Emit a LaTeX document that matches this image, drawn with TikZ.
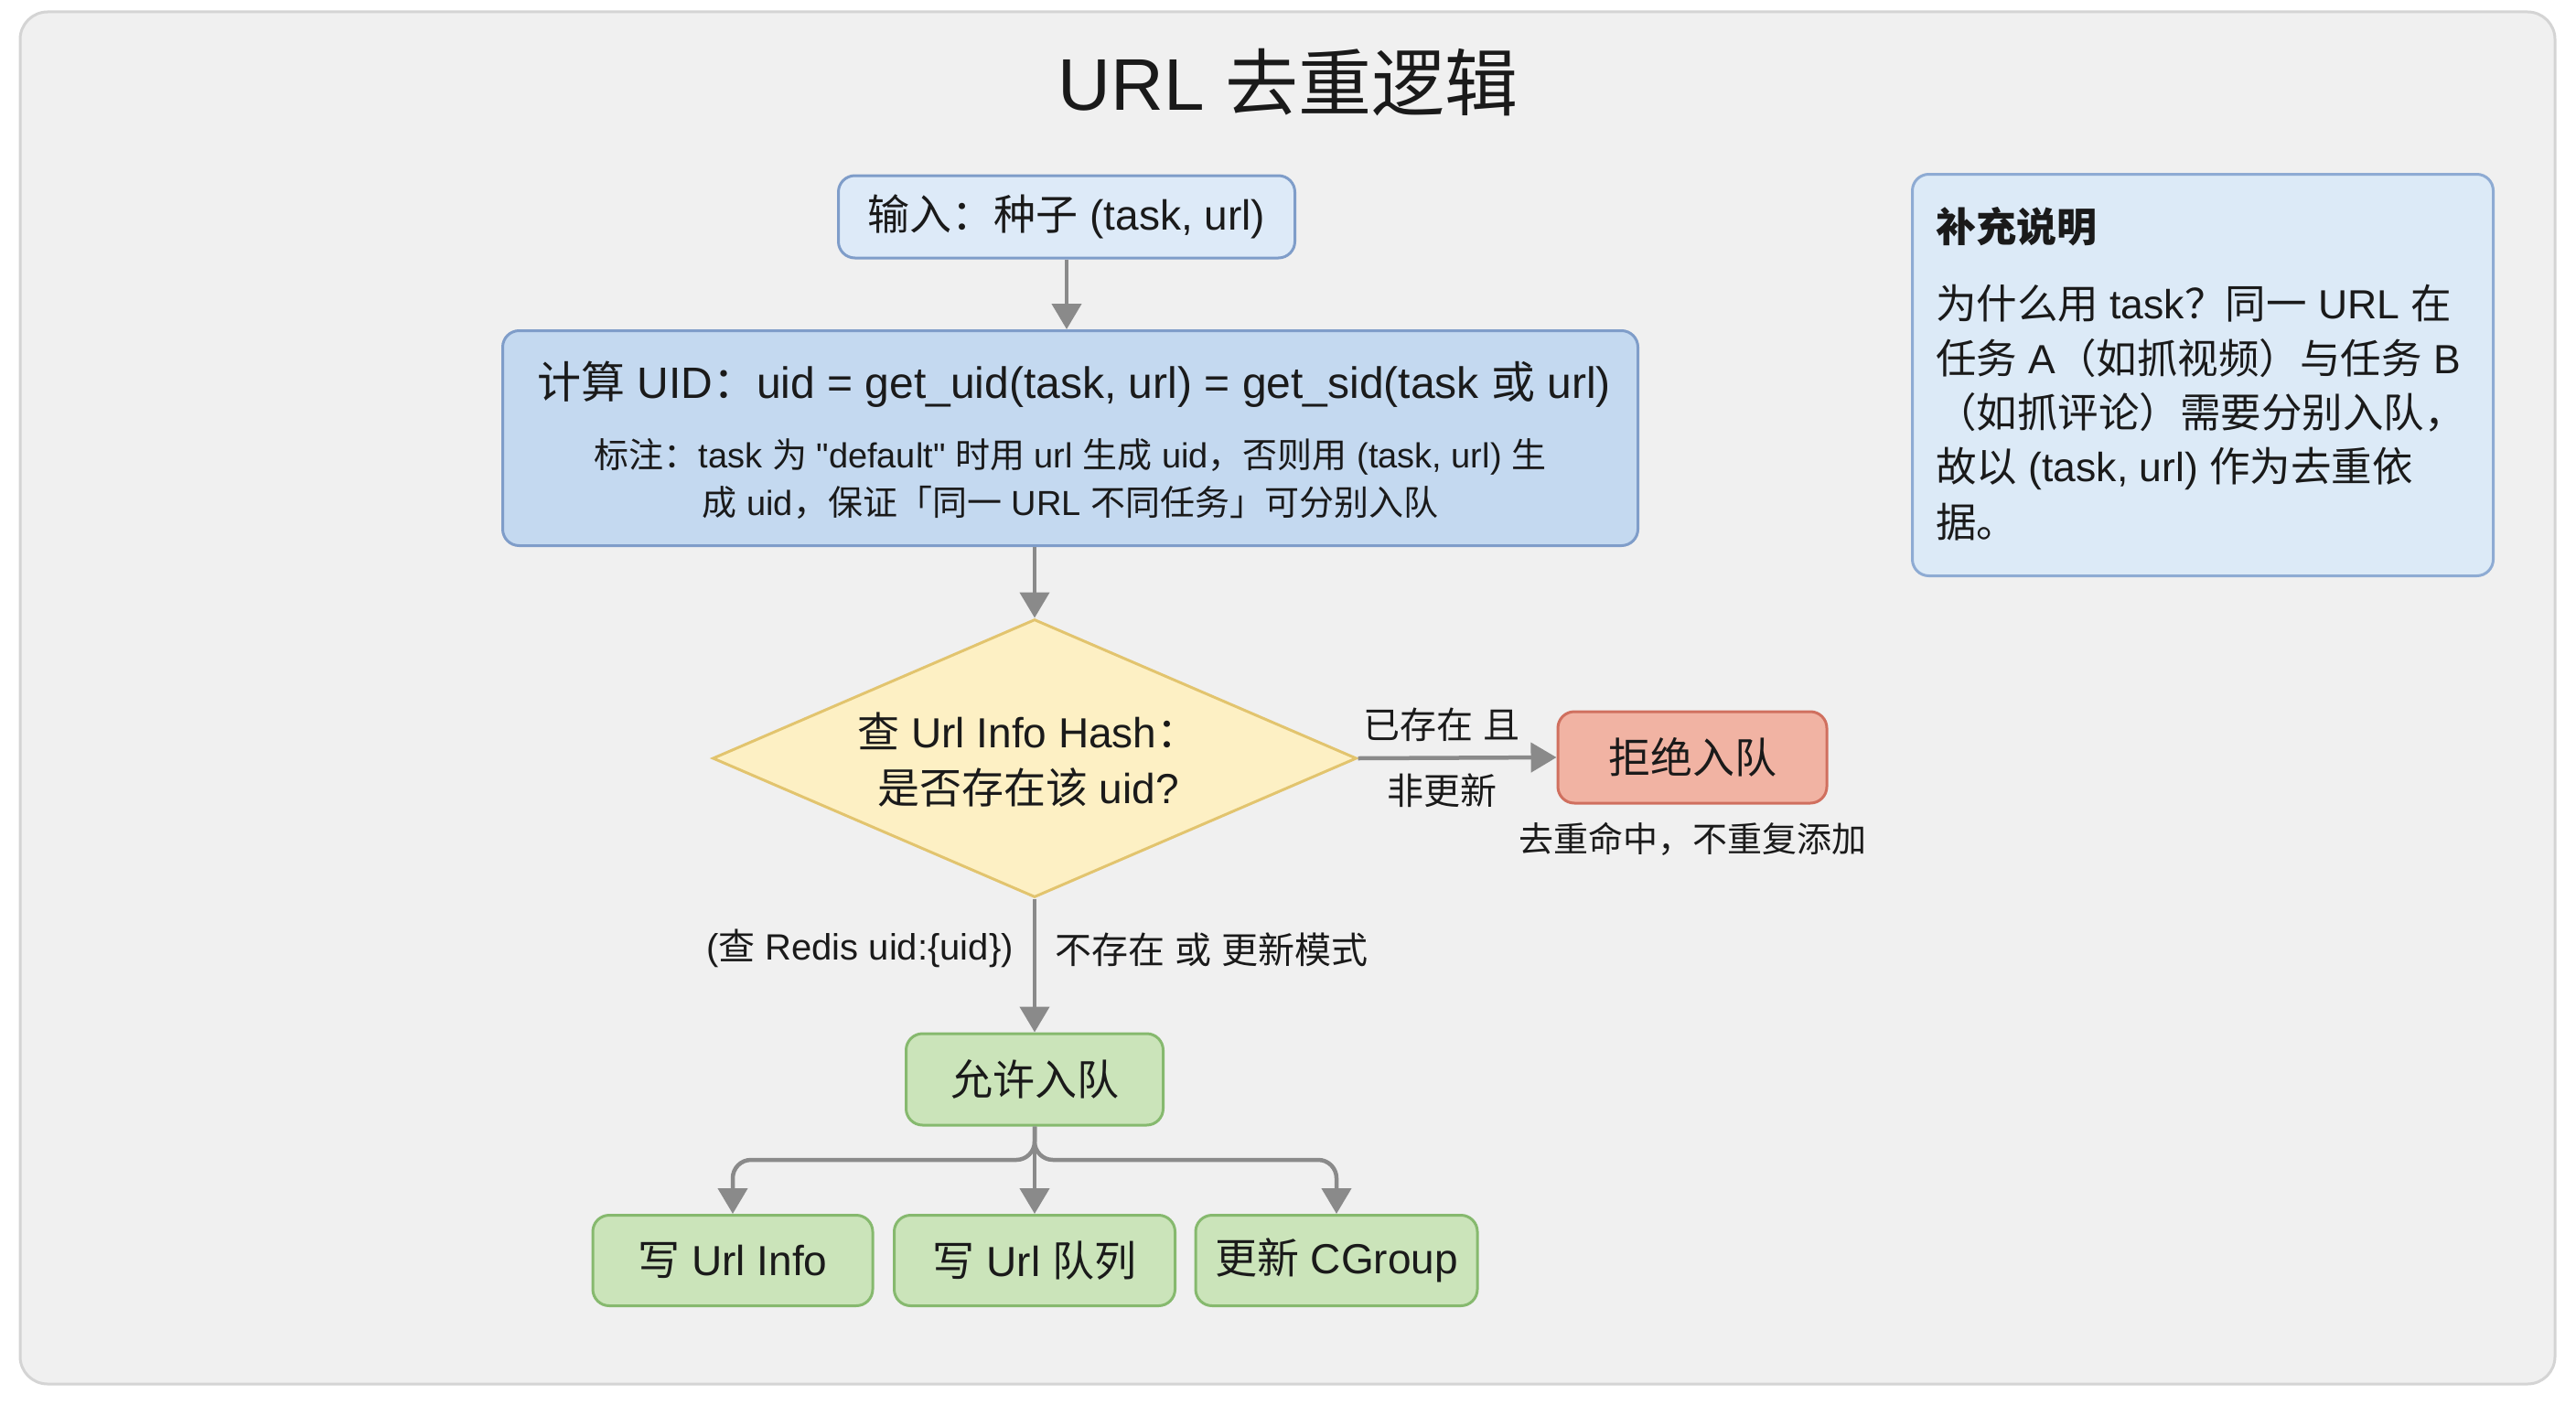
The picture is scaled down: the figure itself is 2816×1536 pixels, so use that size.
\documentclass[tikz,border=0pt]{standalone}
\usepackage{fontspec}
\setmainfont{Liberation Sans}
\newfontfamily\latinfont{Liberation Sans}
\newfontfamily\cjkfont{Noto Sans CJK SC}
\usetikzlibrary{arrows.meta,shapes.geometric}

% Switch to the CJK family automatically for Han characters and CJK punctuation
\XeTeXinterchartokenstate=1
\newXeTeXintercharclass\cjkclass
\makeatletter
\count@="3000
\loop \XeTeXcharclass\count@=\cjkclass \advance\count@ by 1 \ifnum\count@<"3040 \repeat
\count@="4E00
\loop \XeTeXcharclass\count@=\cjkclass \advance\count@ by 1 \ifnum\count@<"A000 \repeat
\count@="FF00
\loop \XeTeXcharclass\count@=\cjkclass \advance\count@ by 1 \ifnum\count@<"FFF0 \repeat
\makeatother
\XeTeXinterchartoks 0 \cjkclass = {\cjkfont}
\XeTeXinterchartoks 4095 \cjkclass = {\cjkfont}
\XeTeXinterchartoks \cjkclass 0 = {\latinfont}
\XeTeXinterchartoks \cjkclass 4095 = {\latinfont}

\definecolor{pagebg}{HTML}{FFFFFF}
\definecolor{framebg}{HTML}{F0F0F0}
\definecolor{framebd}{HTML}{D4D4D4}
\definecolor{inbg}{HTML}{DDEAF8}
\definecolor{blueedge}{HTML}{7F9DC9}
\definecolor{uidbg}{HTML}{C4D9F0}
\definecolor{diabg}{HTML}{FDF0C4}
\definecolor{diaedge}{HTML}{E2C46E}
\definecolor{rejbg}{HTML}{F1B3A3}
\definecolor{rejedge}{HTML}{D0705F}
\definecolor{okbg}{HTML}{CBE4BA}
\definecolor{okedge}{HTML}{86B96E}
\definecolor{notebg}{HTML}{DCEAF7}
\definecolor{noteedge}{HTML}{8EABD3}
\definecolor{arrowgray}{HTML}{8A8A8A}
\definecolor{ink}{HTML}{1A1A1A}

\tikzset{
  box/.style={rectangle, rounded corners=18pt, line width=3pt, inner sep=0pt, text=ink},
  inbox/.style={box, fill=inbg, draw=blueedge},
  uidbox/.style={box, fill=uidbg, draw=blueedge},
  rejbox/.style={box, fill=rejbg, draw=rejedge},
  okbox/.style={box, fill=okbg, draw=okedge},
  notebox/.style={box, fill=notebg, draw=noteedge},
  decision/.style={diamond, fill=diabg, draw=diaedge, line width=3pt, inner sep=0pt},
  boxtext/.style={text=ink, font=\fontsize{46}{56}\selectfont, inner sep=0pt},
  lbl/.style={text=ink, font=\fontsize{40}{48}\selectfont, inner sep=0pt},
  flow/.style={draw=arrowgray, line width=4.5pt, -{Triangle[length=28pt,width=32pt]}},
}

\begin{document}
\begin{tikzpicture}[x=1pt, y=-1pt]
\useasboundingbox (0,0) rectangle (2816,1536);
\fill[pagebg] (0,0) rectangle (2816,1536);
\draw[fill=framebg, draw=framebd, line width=3pt, rounded corners=30pt] (22,13) rectangle (2793,1513);

% title
\node[text=ink, font=\fontsize{80}{90}\selectfont, inner sep=0pt] (title) at (1408,90) {URL 去重逻辑};

% main flow
\node[inbox, minimum width=499pt, minimum height=90pt] (in) at (1166,237) {};
\node[boxtext] (intext) at (1166,237) {输入：种子 (task, url)};

\node[uidbox, minimum width=1241pt, minimum height=235pt] (uid) at (1170,479) {};
\node[boxtext, font=\fontsize{48}{56}\selectfont] (uidtext) at (1174,420) {计算 UID：uid = get\_uid(task, url) = get\_sid(task 或 url)};
\node[text=ink, font=\fontsize{38}{52}\selectfont, inner sep=0pt, align=center] (uidnote) at (1170,523)
  {标注：task 为 "default" 时用 url 生成 uid，否则用 (task, url) 生\\成 uid，保证「同一 URL 不同任务」可分别入队};

\node[decision, minimum width=704pt, minimum height=304pt] (dia) at (1131,829) {};
\node[boxtext, align=center, font=\fontsize{46}{61}\selectfont] (diatext) at (1124,831) {查 Url Info Hash：\\是否存在该 uid?};

\node[rejbox, minimum width=294pt, minimum height=100pt] (rej) at (1850,828) {};
\node[boxtext] (rejtext) at (1850,828) {拒绝入队};
\node[text=ink, font=\fontsize{38}{46}\selectfont, inner sep=0pt] (rejnote) at (1850,917) {去重命中，不重复添加};

\node[okbox, minimum width=281pt, minimum height=100pt] (ok) at (1131,1180) {};
\node[boxtext] (oktext) at (1131,1180) {允许入队};

\node[okbox, minimum width=306pt, minimum height=99pt] (w1) at (801,1378) {};
\node[boxtext] (w1text) at (801,1378) {写 Url Info};
\node[okbox, minimum width=307pt, minimum height=99pt] (w2) at (1131,1378) {};
\node[boxtext] (w2text) at (1131,1378) {写 Url 队列};
\node[okbox, minimum width=308pt, minimum height=99pt] (w3) at (1461,1378) {};
\node[boxtext] (w3text) at (1461,1378) {更新 CGroup};

% connectors
\draw[flow] (in.south) -- (in.south |- uid.north);
\draw[flow] (dia.north |- uid.south) -- (dia.north);
\draw[flow] (dia.east) -- (rej.west);
\draw[flow] (dia.south) -- (ok.north);
\coordinate (split) at (1131,1268);
\draw[flow, rounded corners=20pt] (ok.south) -- (split) -| (w1.north);
\draw[flow] (ok.south) -- (w2.north);
\draw[flow, rounded corners=20pt] (ok.south) -- (split) -| (w3.north);

% connector labels
\node[lbl] (yes1) at (1576,792) {已存在 且};
\node[lbl] (yes2) at (1576,864) {非更新};
\node[lbl, anchor=east] (redis) at (1108,1037) {(查 Redis uid:\{uid\})};
\node[lbl, anchor=west] (no) at (1153,1038) {不存在 或 更新模式};

% side note
\node[notebox, minimum width=635pt, minimum height=439pt] (note) at (2408,410) {};
\node[text=ink, font=\fontsize{44}{52}\selectfont\bfseries, inner sep=0pt, anchor=west] (notehead) at (2116,248) {补充说明};
\begin{scope}[every node/.style={text=ink, font=\fontsize{44.5}{50}\selectfont, inner sep=0pt, anchor=west}]
\node (n1) at (2116,332) {为什么用 task？同一 URL 在};
\node (n2) at (2116,392) {任务 A（如抓视频）与任务 B};
\node (n3) at (2116,451) {（如抓评论）需要分别入队，};
\node (n4) at (2116,512) {故以 (task, url) 作为去重依};
\node (n5) at (2116,571) {据。};
\end{scope}
\end{tikzpicture}
\end{document}
